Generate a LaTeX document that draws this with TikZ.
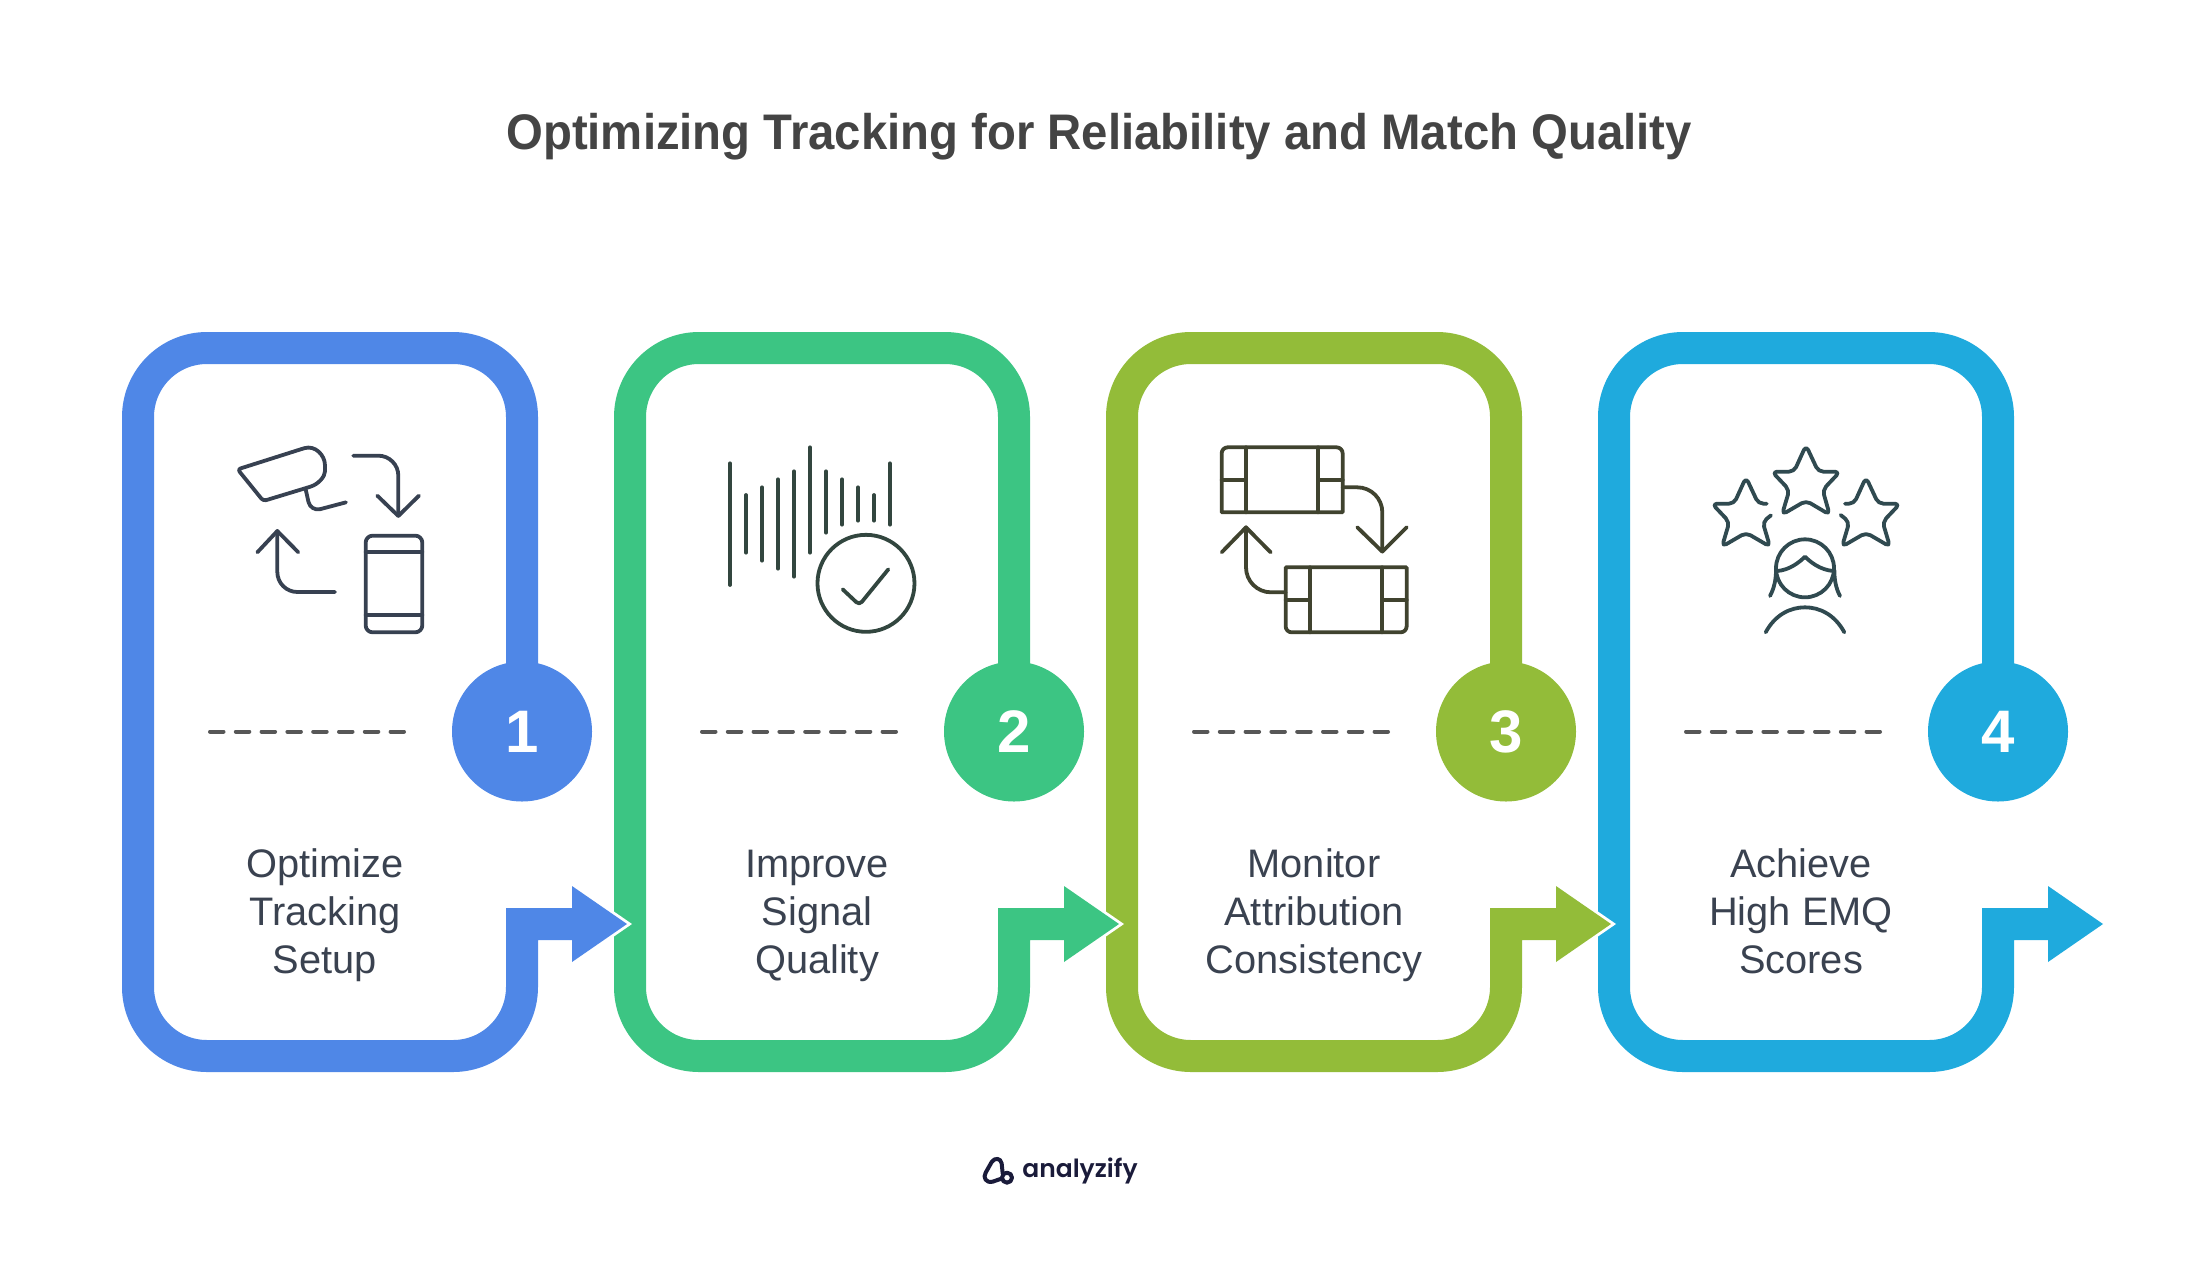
\documentclass[tikz,border=0pt]{standalone}
\usepackage{fontspec}
\setmainfont{Liberation Sans}
\newfontfamily\logofont{Poppins}[UprightFont=* SemiBold]
\definecolor{cardblue}{HTML}{4F87E7}
\definecolor{cardgreen}{HTML}{3CC583}
\definecolor{cardolive}{HTML}{93BC39}
\definecolor{cardcyan}{HTML}{1FAADD}
\definecolor{inkblue}{HTML}{374151}
\definecolor{inkgreen}{HTML}{32463F}
\definecolor{inkolive}{HTML}{40432F}
\definecolor{inkcyan}{HTML}{304A50}
\definecolor{titlegray}{HTML}{444444}
\definecolor{labelgray}{HTML}{3A4250}
\definecolor{logoink}{HTML}{1A1B3A}
\tikzset{
  band/.style = {line width=32pt, draw=#1},
  badge/.style = {shape=circle, fill=#1, minimum size=140pt, inner sep=0pt,
    text=white, font=\fontsize{60}{60}\selectfont\bfseries},
  cardtext/.style = {align=center, text=labelgray, inner sep=0pt, anchor=north,
    font=\fontsize{39.8}{48}\selectfont},
  divider/.style = {line width=4pt, draw=titlegray!90, line cap=round,
    dash pattern=on 13.5pt off 12.3pt},
  icon/.style = {line width=3.8pt, line cap=round, line join=round},
  iconframe/.style = {shift={#1}, x=.3333pt, y=-.3333pt}
}
\begin{document}
\begin{tikzpicture}[x=1pt, y=-1pt]
  \useasboundingbox (0,0) rectangle (2198,1262);
  \node (title) at (1099,137) [text=titlegray,
    font=\fontsize{50}{60}\selectfont\bfseries\addfontfeature{FakeStretch=0.946}]
    {Optimizing Tracking for Reliability and Match Quality};
  % last card first, so that each arrow lies over the next band
  \foreach \n/\col/\lbl/\tx [evaluate=\n as \dx using (\n-1)*492] in {
      4/cardcyan/{Achieve\\High EMQ\\Scores}/325,
      3/cardolive/{Monitor\\Attribution\\Consistency}/330,
      2/cardgreen/{Improve\\Signal\\Quality}/325,
      1/cardblue/{Optimize\\Tracking\\Setup}/325} {
    \begin{scope}[shift={(\dx,0)}]
      \node (num\n) at (522,731.5) [badge=\col] {\n};
      \coordinate (tail\n) at (574,924);
      \coordinate (tip\n) at (627,924);
      \fill[\col, preaction={draw=white, line width=5.7pt}]
        (tip\n) -- (572,886) -- (572,962) -- cycle;
      \draw[band=\col] ([yshift=-10pt]num\n.north) [rounded corners=69pt] -- (522,348)
        -- (138,348) -- (138,1056) -- (522,1056) [sharp corners] -- (522,924)
        -- (tail\n);
      \coordinate (dashA\n) at (210,731.5);
      \coordinate (dashB\n) at (404,731.5);
      \draw[divider] (dashA\n) -- (dashB\n);
      \node (lbl\n) at (\tx,847) [cardtext] {\rule{0pt}{30pt}\lbl};
    \end{scope}
  }
  % camera and phone
  \begin{scope}[iconframe={(220,430)}]
    \draw[icon, inkblue, rounded corners=3pt] (53,118) -- (245,57)
      .. controls (285,45) and (315,75) .. (315,115)
      .. controls (315,140) and (295,162) .. (265,172) -- (130,213) -- cycle;
    \draw[icon, inkblue, rounded corners=10pt] (257,178) -- (272,245) -- (378,217);
    \draw[icon, inkblue, rounded corners=20pt] (400,77) -- (535,77) -- (535,258);
    \draw[icon, inkblue] (472,197) -- (535,258) -- (597,197);
    \draw[icon, inkblue, rounded corners=7pt] (437,317) rectangle (607,607);
    \draw[icon, inkblue] (437,365) -- (607,365) (437,555) -- (607,555);
    \draw[icon, inkblue, rounded corners=20pt] (345,486) -- (172,486) -- (172,303);
    \draw[icon, inkblue] (112,367) -- (172,303) -- (235,367);
  \end{scope}
  % signal bars and check mark
  \begin{scope}[iconframe={(710,430)}]
    \foreach \bx/\ba/\bb in {60/100/465, 108/195/368, 156/172/392, 204/148/416,
        252/124/440, 300/52/368, 348/124/308, 396/148/284, 444/172/272,
        492/195/272, 540/100/284}
      \draw[icon, inkgreen] (\bx,\ba) -- (\bx,\bb);
    \draw[icon, inkgreen] (468,460) circle[radius=48.5pt];
    \draw[icon, inkgreen, rounded corners=4pt] (398,478) -- (448,525) -- (535,418);
  \end{scope}
  % two panels swapping
  \begin{scope}[iconframe={(1200,430)}]
    \draw[icon, inkolive] (65,247) [rounded corners=6pt] -- (65,52) -- (428,52)
      [sharp corners] -- (428,247) -- cycle;
    \draw[icon, inkolive] (138,52) -- (138,247) (355,52) -- (355,247)
      (65,150) -- (138,150) (355,150) -- (428,150);
    \draw[icon, inkolive] (620,412) [rounded corners=6pt] -- (620,607) -- (257,607)
      [sharp corners] -- (257,412) -- cycle;
    \draw[icon, inkolive] (330,412) -- (330,607) (547,412) -- (547,607)
      (257,510) -- (330,510) (547,510) -- (620,510);
    \draw[icon, inkolive, rounded corners=25pt] (428,172) -- (547,172) -- (547,365);
    \draw[icon, inkolive] (472,292) -- (547,365) -- (620,292);
    \draw[icon, inkolive, rounded corners=25pt] (257,487) -- (138,487) -- (138,292);
    \draw[icon, inkolive] (65,367) -- (138,292) -- (212,367);
  \end{scope}
  % three stars and a person
  \begin{scope}[iconframe={(1700,430)}]
    \draw[icon, inkcyan, rounded corners=5pt] (318,46) -- (355,125) -- (420,125)
      -- (368,180) -- (389,254) -- (318,212) -- (246,254) -- (268,180)
      -- (216,125) -- (282,125) -- cycle;
    \draw[icon, inkcyan, rounded corners=5pt] (200,221) -- (175,221) -- (138,142)
      -- (102,221) -- (36,221) -- (88,276) -- (66,350) -- (138,308) -- (210,350)
      -- (188,276) -- (213,256);
    \draw[icon, inkcyan, rounded corners=5pt] (435,221) -- (462,221) -- (498,142)
      -- (535,221) -- (600,221) -- (548,276) -- (570,350) -- (498,308) -- (426,350)
      -- (448,276) -- (422,255);
    \draw[icon, inkcyan] (315,415) circle[radius=29pt];
    \draw[icon, inkcyan] (232,423) .. controls (270,420) and (300,395) .. (315,380)
      .. controls (330,395) and (360,420) .. (400,423);
    \draw[icon, inkcyan] (228,420) .. controls (228,450) and (222,475) .. (210,498);
    \draw[icon, inkcyan] (403,420) .. controls (403,450) and (408,475) .. (420,498);
    \draw[icon, inkcyan] (197,607) .. controls (225,555) and (270,532) .. (315,532)
      .. controls (360,532) and (405,555) .. (433,607);
  \end{scope}
  % logo
  \node (logo) at (1080,1177) [anchor=base, text=logoink, inner sep=0pt,
    font=\fontsize{25}{25}\selectfont\logofont] {analyzify};
  \begin{scope}[iconframe={(960,1140)}]
    \draw[line width=4pt, logoink, line cap=round, line join=round]
      (141,113) circle[radius=5pt]
      (127,115) -- (98,125) .. controls (78,130) and (68,112) .. (77,98)
      -- (95,66) .. controls (104,52) and (122,54) .. (125,70) -- (128,100);
  \end{scope}
\end{tikzpicture}
\end{document}
